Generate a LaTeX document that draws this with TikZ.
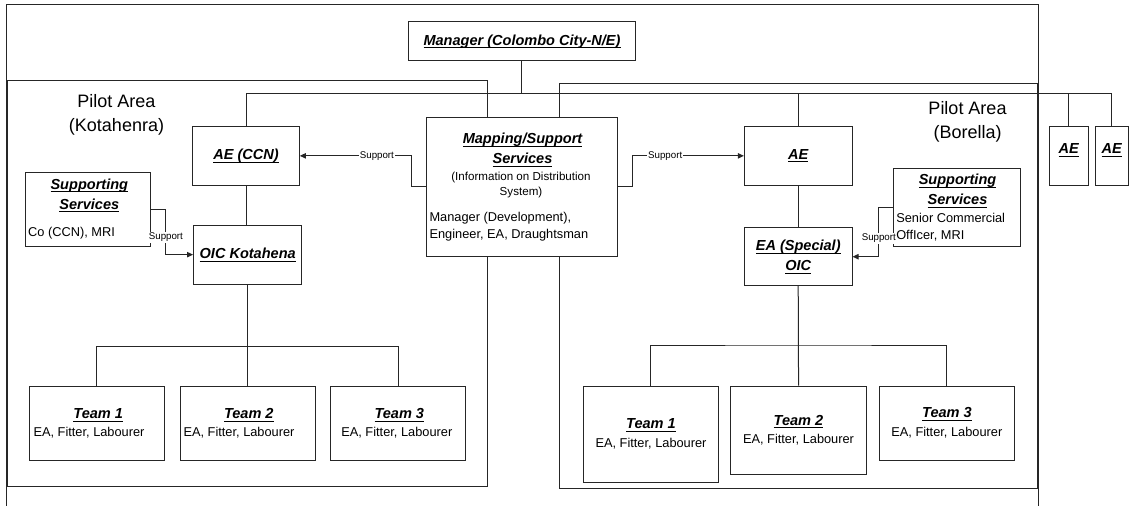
\documentclass[tikz,border=0pt]{standalone}
\usepackage{fontspec}
\setmainfont{Liberation Sans}
\usetikzlibrary{arrows.meta,fit,calc}

\tikzset{
  box/.style={draw=black!85, fill=white, inner sep=0pt, line width=0.75pt},
  area/.style={draw=black!85, inner sep=0pt, line width=0.75pt},
  wire/.style={draw=black!85, line width=0.75pt},
  arr/.style={wire, -{Triangle[length=4.5pt,width=4pt]}},
  hd/.style={font=\fontsize{10.9}{15}\selectfont\bfseries\itshape, align=center, inner sep=0pt},
  bd/.style={font=\fontsize{9.6}{12.3}\selectfont, inner sep=0pt},
  sm/.style={font=\fontsize{8.7}{11}\selectfont, align=center, inner sep=0pt},
  lbl/.style={font=\fontsize{7.3}{8}\selectfont, fill=white, inner sep=0.6pt},
  pilot/.style={font=\fontsize{13.5}{18}\selectfont, align=center, inner sep=0pt},
}
% underlined heading text
\newsavebox{\hlbox}
\newcommand{\hl}[1]{\sbox{\hlbox}{#1}\rlap{\rule[-2.2pt]{\wd\hlbox}{0.7pt}}\usebox{\hlbox}}

\begin{document}
\begin{tikzpicture}[x=0.75pt,y=-0.75pt]
\useasboundingbox (0,0) rectangle (1130,506);

% outer frame (runs past the bottom edge)
\draw[wire] (6.7,506) -- (6.7,4.3) -- (1038,4.3) -- (1038,506);

% pilot areas
\node[area, fit={(7,81) (487.7,486)}] (kot) {};
\node[area, fit={(559,84) (1037,488)}] (bor) {};
\node[pilot] (kotlbl) at (116.5,115) {Pilot Area\\(Kotahenra)};
\node[pilot] (borlbl) at (967.5,122) {Pilot Area\\(Borella)};

% boxes
\node[box, fit={(408.7,21.7) (635,61)}] (mgr) {};
\node[box, fit={(192.9,126.7) (299.3,185)}] (aeccn) {};
\node[box, fit={(193.6,225) (301.8,284.3)}] (oic) {};
\node[box, fit={(25.7,172.3) (150.7,246.7)}] (ssk) {};
\node[box, fit={(29.3,386) (164.6,460.7)}] (kt1) {};
\node[box, fit={(180.4,386) (315,460.7)}] (kt2) {};
\node[box, fit={(330.7,386) (465.4,460.7)}] (kt3) {};
\node[box, fit={(744.4,126.7) (852,185)}] (aeb) {};
\node[box, fit={(744.4,227.7) (852,285.7)}] (oicb) {};
\node[box, fit={(893.3,168.3) (1020,246.7)}] (ssb) {};
\node[box, fit={(583.6,386) (718.2,482.3)}] (bt1) {};
\node[box, fit={(730.9,386) (866.2,474)}] (bt2) {};
\node[box, fit={(879.6,386) (1014.2,460.7)}] (bt3) {};
\node[box, fit={(1049.3,126.7) (1088.3,185)}] (aer1) {};
\node[box, fit={(1095,126.7) (1128.3,185)}] (aer2) {};

% reporting lines
\coordinate (bus) at (522,93.5);
\coordinate (kbus) at (247.7,346.7);
\coordinate (bbus) at (798.2,345);
\draw[wire] (mgr.south) -- (mgr.south |- bus);
\draw[wire] (aeccn.north) -- (aeccn.north |- bus) -- (aer2.north |- bus) -- (aer2.north);
\draw[wire] (aeb.north) -- (aeb.north |- bus);
\draw[wire] (aer1.north) -- (aer1.north |- bus);
\draw[wire] (aeccn.south) -- (aeccn.south |- oic.north);
\draw[wire] (aeb.south) -- (oicb.north);
\draw[wire] (oic.south) -- (kt2.north);
\draw[wire] (kt1.north) |- (kbus) -| (kt3.north);
\draw[wire] (oicb.south) -- (bt2.north);
\draw[wire] (bt1.north) |- (bbus) -| (bt3.north);

% mapping box sits over the area borders
\node[box, fit={(426,117.3) (617.3,256)}] (map) {};

% support links
\draw[arr] (map.west) -- ++(-14.3,0) |- node[lbl, pos=0.654] (s1) {Support} (aeccn.east);
\draw[arr] (map.east) -- ++(14.3,0) |- node[lbl, pos=0.648] (s2) {Support} (aeb.west);
\draw[arr] (ssk.east) -- ++(14.7,0) |- node[lbl, pos=0.31] (s3) {Support} (oic.west);
\draw[arr] (ssb.west) -- ++(-14,0) |- node[lbl, pos=0.313] (s4) {Support} (oicb.east);

% texts
\node[hd] (tmgr) at (522,41.3) {\hl{Manager (Colombo City-N/E)}};
\node[hd] (tmap) at (522.5,150) {\hl{Mapping/Support}\\\hl{Services}};
\node[sm] (tinfo) at (521,184.7) {(Information on Distribution\\System)};
\node[bd, anchor=west, align=left] (tstaff) at (429.3,226.7) {Manager (Development),\\Engineer, EA, Draughtsman};
\node[hd] (taeccn) at (246.1,155.8) {\hl{AE (CCN)}};
\node[hd] (toic) at (247.7,254.7) {\hl{OIC Kotahena}};
\node[hd] (tssk) at (89.3,195.5) {\hl{Supporting}\\\hl{Services}};
\node[bd, anchor=west] (tssk2) at (27.9,233.3) {Co (CCN), MRI};
\node[hd] (taeb) at (798.2,155.8) {\hl{AE}};
\node[hd] (toicb) at (798.2,256.7) {\hl{EA (Special)}\\\hl{OIC}};
\node[hd] (tssb) at (957.5,190.8) {\hl{Supporting}\\\hl{Services}};
\node[bd, anchor=west, align=left] (tssb2) at (896,227.2) {Senior Commercial\\OffIcer, MRI};
\node[hd] (taer1) at (1068.8,150) {\hl{AE}};
\node[hd] (taer2) at (1111.7,150) {\hl{AE}};

\node[hd] (tk1) at (98.2,415) {\hl{Team 1}};
\node[bd] (tk1b) at (89,432.7) {EA, Fitter, Labourer};
\node[hd] (tk2) at (248.8,415) {\hl{Team 2}};
\node[bd] (tk2b) at (239,432.7) {EA, Fitter, Labourer};
\node[hd] (tk3) at (399.3,415) {\hl{Team 3}};
\node[bd] (tk3b) at (396.8,432.7) {EA, Fitter, Labourer};

\node[hd] (tb1) at (651,425) {\hl{Team 1}};
\node[bd] (tb1b) at (651,443.3) {EA, Fitter, Labourer};
\node[hd] (tb2) at (798.5,421.7) {\hl{Team 2}};
\node[bd] (tb2b) at (798.5,440) {EA, Fitter, Labourer};
\node[hd] (tb3) at (947,414) {\hl{Team 3}};
\node[bd] (tb3b) at (946.8,432.7) {EA, Fitter, Labourer};
\end{tikzpicture}
\end{document}
